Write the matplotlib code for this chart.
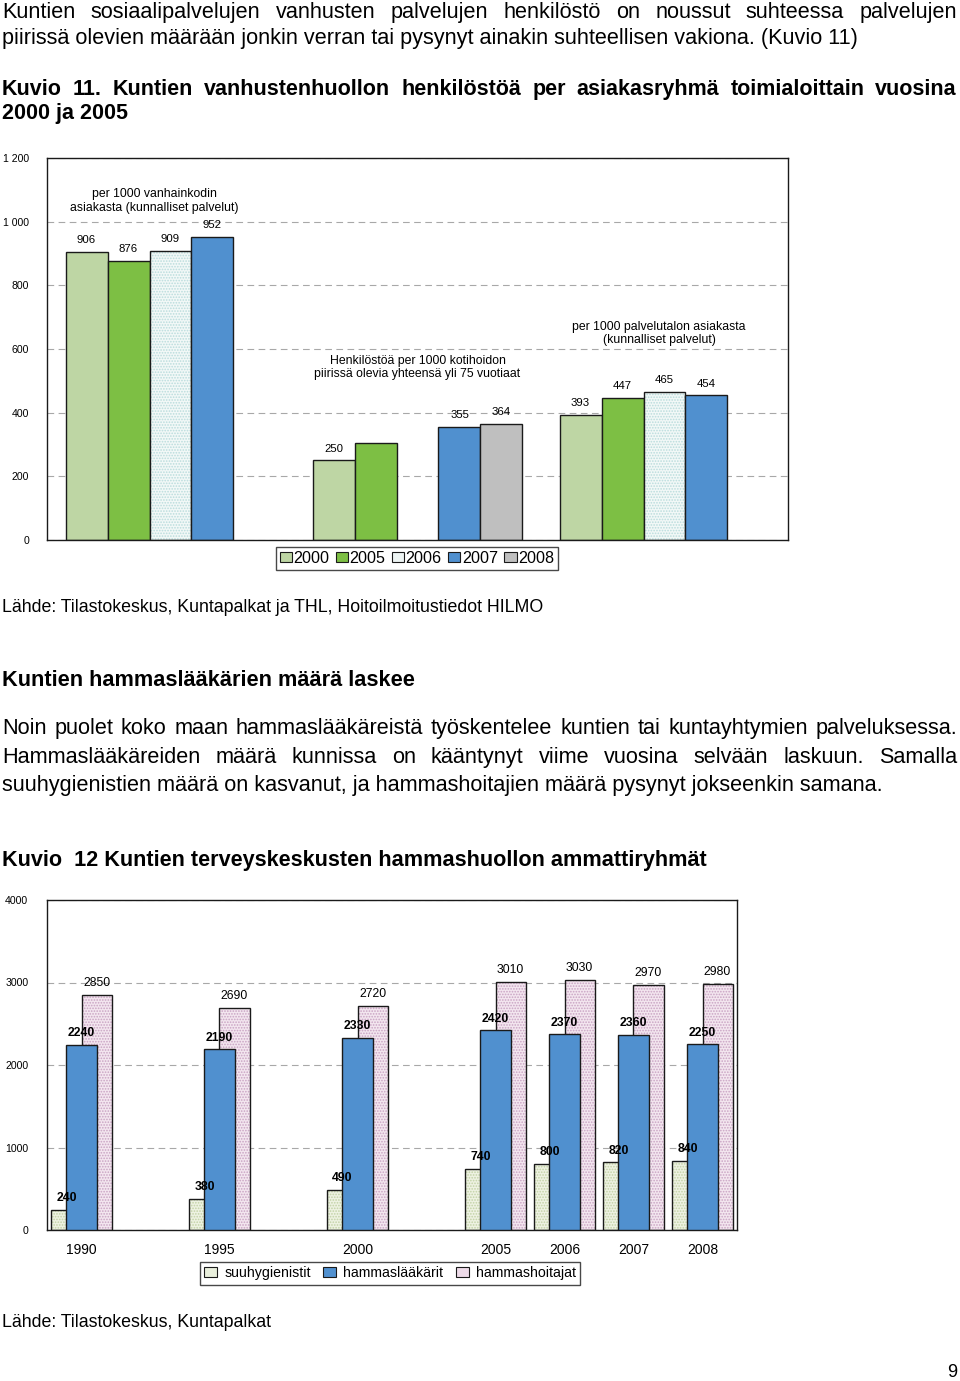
import numpy as np
import matplotlib
matplotlib.use("Agg")
from matplotlib import pyplot as plt
from matplotlib.patches import Patch

plt.rcParams['font.family'] = ['Liberation Sans', 'DejaVu Sans']
plt.rcParams['hatch.linewidth'] = 0.8

W, H = 960, 1381

# ----- Kuvio 11 data
years1 = ['2000', '2005', '2006', '2007', '2008']
v2000 = [906, 250, 393]
v2005 = [876, 304, 447]
v2006 = [909, np.nan, 465]
v2007 = [952, 355, 454]
v2008 = [np.nan, 364, np.nan]
shown2005 = [True, False, True]
notes1 = ['per 1000 vanhainkodin\nasiakasta (kunnalliset palvelut)',
          'Henkilöstöä per 1000 kotihoidon\npiirissä olevia yhteensä yli 75 vuotiaat',
          'per 1000 palvelutalon asiakasta\n(kunnalliset palvelut)']
yticks1 = [0, 200, 400, 600, 800, 1000, 1200]
ytick_labels1 = ['0', '200', '400', '600', '800', '1 000', '1 200']

# ----- Kuvio 12 data
years2 = [1990, 1995, 2000, 2005, 2006, 2007, 2008]
suuhyg = [240, 380, 490, 740, 800, 820, 840]
hammaslaak = [2240, 2190, 2330, 2420, 2370, 2360, 2250]
hammashoit = [2850, 2690, 2720, 3010, 3030, 2970, 2980]
yticks2 = [0, 1000, 2000, 3000, 4000]

DARK = '#1a1a1a'
GRID = '#a8a8a8'


def fy(px):
    return 1 - px / H


def dotted_bar(ax, x, h, w, face, dots, z=2):
    ax.bar(x, h, w, color=face, edgecolor=dots, hatch='......', linewidth=0, zorder=z)
    ax.bar(x, h, w, fill=False, edgecolor=DARK, linewidth=1.0, zorder=z)


fig = plt.figure(figsize=(W / 100, H / 100), dpi=100)

# ----- Kuvio 11
ax1 = fig.add_axes([47 / W, fy(540), 741 / W, 382 / H])
x1 = np.arange(3)
bw = 0.17
cols1 = ['#bed6a4', '#7dbf44', '#eef5f4', '#5090cf', '#bfbfbf']
series1 = [v2000, v2005, v2006, v2007, v2008]
for k, vals in enumerate(series1):
    xs = x1 + (k - 2) * bw
    if years1[k] == '2006':
        dotted_bar(ax1, xs, vals, bw, '#f2f8f7', '#b9dcdc')
    else:
        ax1.bar(xs, vals, bw, color=cols1[k], edgecolor=DARK, linewidth=1.0, zorder=2)
    for i, v in enumerate(vals):
        if np.isnan(v) or (k == 1 and not shown2005[i]):
            continue
        ax1.annotate(str(int(v)), (xs[i], v), xytext=(0, 8.5), textcoords='offset points',
                     ha='center', va='center', fontsize=8.2)

note_x = [-0.067, 1.0, 1.978]
note_y = [1066, 542, 649]
for t, nx, ny in zip(notes1, note_x, note_y):
    ax1.text(nx, ny, t, ha='center', va='center', fontsize=8.8, linespacing=1.2)

ax1.set_xlim(-0.5, 2.5)
ax1.set_ylim(0, 1200)
ax1.set_xticks([])
ax1.set_yticks(yticks1)
ax1.set_yticklabels(ytick_labels1, fontsize=7.6)
ax1.tick_params(axis='y', length=0, pad=13)
ax1.yaxis.grid(True, linestyle=(0, (6, 4)), color=GRID, linewidth=0.8)
ax1.set_axisbelow(True)
for s in ax1.spines.values():
    s.set_color(DARK)
    s.set_linewidth(1.0)

h1 = [Patch(facecolor=c, edgecolor=DARK, linewidth=0.8) for c in cols1]
leg1 = ax1.legend(h1, years1, loc='upper center', bbox_to_anchor=(417 / W, fy(547)),
                  bbox_transform=fig.transFigure, ncol=5, fontsize=11.6, frameon=True,
                  fancybox=False, handlelength=0.75, handleheight=0.6, handletextpad=0.1,
                  columnspacing=0.4, borderpad=0.25, borderaxespad=0)
leg1.get_frame().set_edgecolor(DARK)
leg1.get_frame().set_linewidth(1.0)

# ----- Kuvio 12
ax2 = fig.add_axes([47 / W, fy(1230), 690 / W, 330 / H])
gaps = [2 if d == 5 else 1 for d in np.diff(years2)]
x2 = np.concatenate([[0], np.cumsum(gaps)])
bw2 = 0.435
off = bw2 / 2
dotted_bar(ax2, x2 - off, suuhyg, bw2, '#eef2e2', '#c2d2a6')
dotted_bar(ax2, x2 + off, hammashoit, bw2, '#f3e6ef', '#c9a3c3')
ax2.bar(x2, hammaslaak, bw2, color='#5090cf', edgecolor=DARK, linewidth=1.0, zorder=3)
for i in range(len(years2)):
    ax2.annotate(str(suuhyg[i]), (x2[i] - off, suuhyg[i]), xytext=(0, 8.5),
                 textcoords='offset points', ha='center', va='center', fontsize=8.8,
                 fontweight='bold', zorder=5)
    ax2.annotate(str(hammaslaak[i]), (x2[i], hammaslaak[i]), xytext=(0, 8.5),
                 textcoords='offset points', ha='center', va='center', fontsize=8.8,
                 fontweight='bold', zorder=5)
    ax2.annotate(str(hammashoit[i]), (x2[i] + off, hammashoit[i]), xytext=(0, 8.5),
                 textcoords='offset points', ha='center', va='center', fontsize=8.8, zorder=5)

ax2.set_xlim(-0.5, 9.5)
ax2.set_ylim(0, 4000)
ax2.set_xticks(x2)
ax2.set_xticklabels([str(y) for y in years2], fontsize=10)
ax2.set_yticks(yticks2)
ax2.set_yticklabels([str(t) for t in yticks2], fontsize=7.6)
ax2.tick_params(axis='y', length=0, pad=13.5)
ax2.tick_params(axis='x', length=0, pad=9)
ax2.yaxis.grid(True, linestyle=(0, (6, 4)), color=GRID, linewidth=0.8)
ax2.set_axisbelow(True)
for s in ax2.spines.values():
    s.set_color(DARK)
    s.set_linewidth(1.0)

h2 = [Patch(facecolor='#e9efdc', edgecolor=DARK, linewidth=0.8),
      Patch(facecolor='#5090cf', edgecolor=DARK, linewidth=0.8),
      Patch(facecolor='#eedbe9', edgecolor=DARK, linewidth=0.8)]
leg2 = ax2.legend(h2, ['suuhygienistit', 'hammaslääkärit', 'hammashoitajat'],
                  loc='upper center', bbox_to_anchor=(390 / W, fy(1262)),
                  bbox_transform=fig.transFigure, ncol=3, fontsize=10.2, frameon=True,
                  fancybox=False, handlelength=0.9, handleheight=0.7, handletextpad=0.5,
                  columnspacing=0.9, borderpad=0.3, borderaxespad=0)
leg2.get_frame().set_edgecolor(DARK)
leg2.get_frame().set_linewidth(1.0)

# ----- page text
renderer = fig.canvas.get_renderer()


def line(y_px, s, size, weight='normal', justify=False, x0=2, x1=957):
    kw = dict(fontsize=size, fontweight=weight, va='baseline', ha='left')
    if not justify:
        fig.text(x0 / W, fy(y_px), s, **kw)
        return
    words = s.split()
    texts = [fig.text(0, fy(y_px), w_, **kw) for w_ in words]
    widths = [t.get_window_extent(renderer).width for t in texts]
    gap = (x1 - x0 - sum(widths)) / (len(words) - 1)
    xpos = x0
    for t, wd in zip(texts, widths):
        t.set_x(xpos / W)
        xpos += wd + gap


line(18, 'Kuntien sosiaalipalvelujen vanhusten palvelujen henkilöstö on noussut suhteessa palvelujen',
     15.6, justify=True)
line(44, 'piirissä olevien määrään jonkin verran tai pysynyt ainakin suhteellisen vakiona. (Kuvio 11)', 15.6)
line(95, 'Kuvio 11. Kuntien vanhustenhuollon henkilöstöä per asiakasryhmä toimialoittain vuosina',
     15.5, weight='bold', justify=True)
line(119, '2000 ja 2005', 15.5, weight='bold')
line(612, 'Lähde: Tilastokeskus, Kuntapalkat ja THL, Hoitoilmoitustiedot HILMO', 12.8)
line(686, 'Kuntien hammaslääkärien määrä laskee', 15.7, weight='bold')
line(734, 'Noin puolet koko maan hammaslääkäreistä työskentelee kuntien tai kuntayhtymien palveluksessa.',
     15.6, justify=True)
line(763, 'Hammaslääkäreiden määrä kunnissa on kääntynyt viime vuosina selvään laskuun. Samalla',
     15.6, justify=True)
line(791, 'suuhygienistien määrä on kasvanut, ja hammashoitajien määrä pysynyt jokseenkin samana.', 15.6)
line(866, 'Kuvio  12 Kuntien terveyskeskusten hammashuollon ammattiryhmät', 15.6, weight='bold')
line(1327, 'Lähde: Tilastokeskus, Kuntapalkat', 12.8)
fig.text(957 / W, fy(1377), '9', fontsize=13, ha='right', va='baseline')

fig.savefig('out.png', dpi=100)
